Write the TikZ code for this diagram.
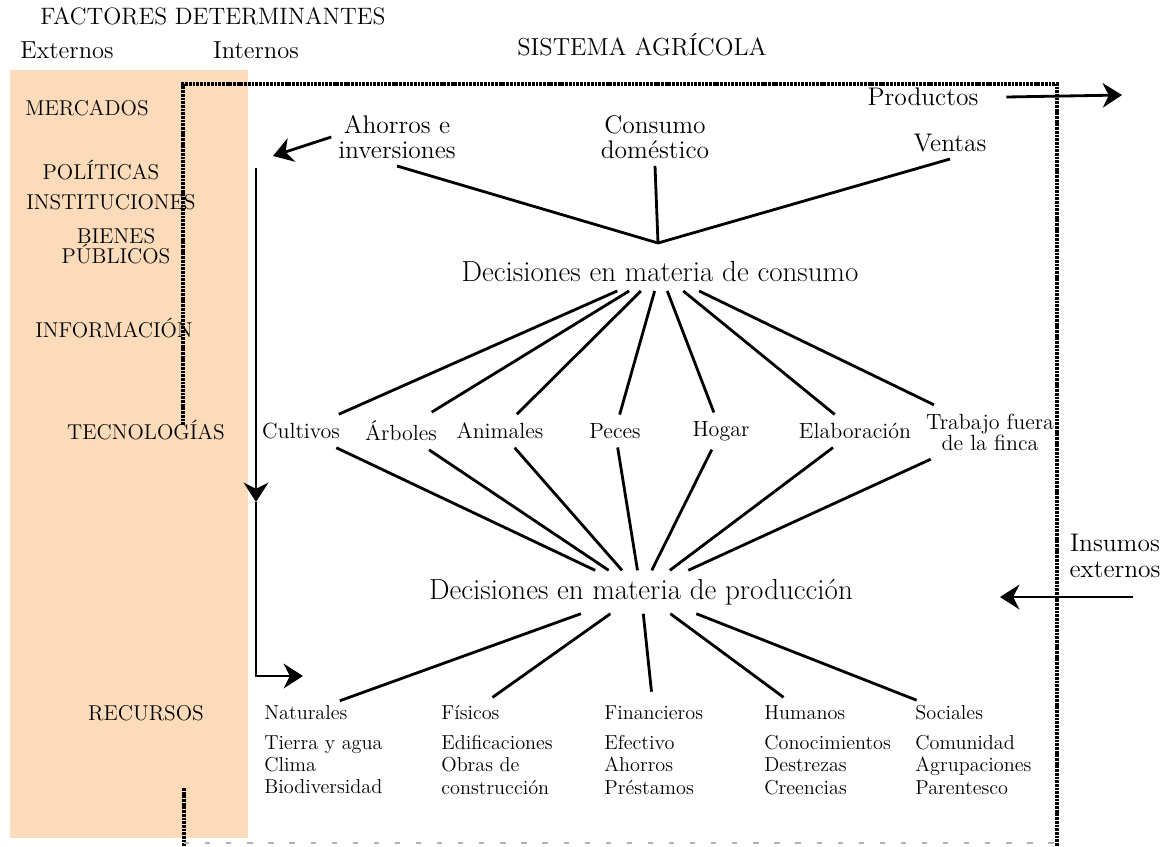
\documentclass[tikz,border=0pt]{standalone}
\usepackage{fontspec}
\usetikzlibrary{arrows.meta}

\definecolor{peach}{RGB}{252,219,187}

\begin{document}
\begin{tikzpicture}[x=0.02cm, y=-0.02cm]
	\tikzset{
	  TitleStyle/.style = { font = \fontsize{13.5}{15}\selectfont, inner sep = 0pt },
	  FactorStyle/.style = { font = \fontsize{12.2}{11.5}\selectfont, align = center, inner sep = 0pt },
	  OptionStyle/.style = { font = \fontsize{14.5}{14.5}\selectfont, align = center,
	                         inner sep = 1pt, outer sep = 3pt },
	  ItemStyle/.style = { font = \fontsize{12.5}{12}\selectfont, align = center,
	                       inner sep = 1pt, outer sep = 4pt },
	  HubStyle/.style = { font = \fontsize{16.5}{18}\selectfont, inner sep = 1pt, outer sep = 4pt },
	  ResourceStyle/.style = { font = \fontsize{11.5}{12.7}\selectfont, anchor = west, inner sep = 0pt },
	  ListStyle/.style = { font = \fontsize{11.5}{12.7}\selectfont, align = left,
	                       anchor = north west, inner sep = 0pt },
	  EdgeStyle/.style = { line width = 1.6pt },
	  FlowStyle/.style = { line width = 1.6pt, -{Stealth[length=11pt, width=14pt, inset=3.5pt]} },
	  FrameStyle/.style = { line width = 2pt, dash pattern = on 1.6pt off 0.5pt }
	}
%	\draw[help lines] (0,0) grid[step=50] (1169,846);
	\useasboundingbox (0,0) rectangle (1169,846);
	\fill[peach] (10,70) rectangle (248,838);

	\node[TitleStyle] (factores) at (213,16) {FACTORES DETERMINANTES};
	\node[TitleStyle, font = \fontsize{14}{16}\selectfont] (externos) at (67,50) {Externos};
	\node[TitleStyle, font = \fontsize{14}{16}\selectfont] (internos) at (256,50) {Internos};
	\node[TitleStyle, font = \fontsize{14}{16}\selectfont] (sistema) at (642,45) {SISTEMA AGRÍCOLA};

	\node[FactorStyle] (mercados) at (87,108) {MERCADOS};
	\node[FactorStyle] (politicas) at (101,170) {POLÍTICAS};
	\node[FactorStyle] (instituciones) at (111,202) {INSTITUCIONES};
	\node[FactorStyle] (bienes) at (116,246) {BIENES\\PÚBLICOS};
	\node[FactorStyle] (informacion) at (114,328) {INFORMACIÓN};
	\node[FactorStyle] (tecnologias) at (146,430) {TECNOLOGÍAS};
	\node[FactorStyle] (recursos) at (146,713) {RECURSOS};

	\node[OptionStyle] (ahorros) at (397,137) {Ahorros e\\inversiones};
	\node[OptionStyle] (consumo) at (655,137) {Consumo\\doméstico};
	\node[OptionStyle] (ventas) at (950,143) {Ventas};
	\node[OptionStyle] (productos) at (923,97) {Productos};
	\node[OptionStyle] (insumos) at (1115,556) {Insumos\\externos};
	\coordinate (hubC) at (658,243);
	\node[HubStyle] (consHub) at (660,272) {Decisiones en materia de consumo};

	\node[ItemStyle] (cultivos) at (301,431) {Cultivos};
	\node[ItemStyle] (arboles) at (401,431) {Árboles};
	\node[ItemStyle] (animales) at (500,431) {Animales};
	\node[ItemStyle] (peces) at (615,431) {Peces};
	\node[ItemStyle] (hogar) at (721,431) {Hogar};
	\node[ItemStyle] (elaboracion) at (855,431) {Elaboración};
	\node[ItemStyle] (trabajo) at (990,432) {Trabajo fuera\\de la finca};

	\node[HubStyle] (prodHub) at (641,592) {Decisiones en materia de producción};

	\node[ResourceStyle] (naturales) at (264,713) {Naturales};
	\node[ResourceStyle] (fisicos) at (441,713) {Físicos};
	\node[ResourceStyle] (financieros) at (604,713) {Financieros};
	\node[ResourceStyle] (humanos) at (764,713) {Humanos};
	\node[ResourceStyle] (sociales) at (915,713) {Sociales};
	\node[ListStyle] (natList) at (264,735) {Tierra y agua\\Clima\\Biodiversidad};
	\node[ListStyle] (fisList) at (441,735) {Edificaciones\\Obras de\\construcción};
	\node[ListStyle] (finList) at (604,735) {Efectivo\\Ahorros\\Préstamos};
	\node[ListStyle] (humList) at (764,735) {Conocimientos\\Destrezas\\Creencias};
	\node[ListStyle] (socList) at (915,735) {Comunidad\\Agrupaciones\\Parentesco};

	\draw[EdgeStyle] (ahorros.south) -- (hubC);
	\draw[EdgeStyle] (consumo.south) -- (hubC);
	\draw[EdgeStyle] (ventas.south) -- (hubC);
	\foreach \act in {cultivos, arboles, animales, peces, hogar, elaboracion, trabajo}{
	  \draw[EdgeStyle] (consHub) -- (\act);
	  \draw[EdgeStyle] (\act) -- (prodHub);
	}
	\foreach \res in {naturales, fisicos, financieros, humanos, sociales}
	  \draw[EdgeStyle, shorten > = 8pt] (prodHub) -- (\res);

	% frame of the farm system
	\draw[FrameStyle] (183,425) -- (183,84) -- (1057,84) -- (1057,846);
	\draw[FrameStyle] (184,788) -- (184,846);
	\draw[black!30, line width = 1pt, dash pattern = on 3pt off 9pt] (184,843) -- (1057,843);

	\coordinate (flowTop) at (256,168);
	\coordinate (flowMid) at (256,502);
	\coordinate (flowCorner) at (256,676);
	\coordinate (flowEnd) at (303,676);
	\coordinate (ahorrosEnd) at (273,156);
	\coordinate (productosEnd) at (1122,95);
	\coordinate (insumosStart) at (1133,597);
	\coordinate (insumosEnd) at (1000,597);
	\draw[FlowStyle] (flowTop) -- (flowMid);
	\draw[FlowStyle] (flowMid) -- (flowCorner) -- (flowEnd);
	\draw[FlowStyle] (ahorros.west) -- (ahorrosEnd);
	\draw[FlowStyle] ([xshift=12pt]productos.east) -- (productosEnd);
	\draw[FlowStyle] (insumosStart) -- (insumosEnd);
\end{tikzpicture}
\end{document}
